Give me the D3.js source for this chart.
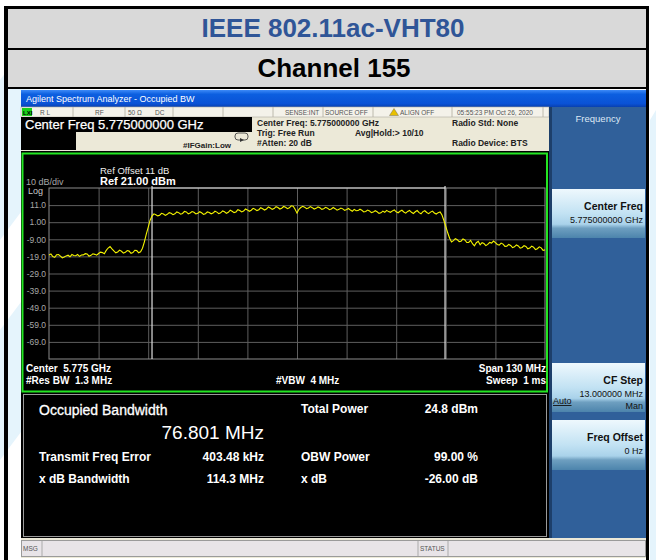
<!DOCTYPE html>
<html>
<head>
<meta charset="utf-8">
<script src="https://cdn.jsdelivr.net/npm/d3@7"></script>
<style>
  body { margin: 0; background: #fff; }
  svg { display: block; font-family: "Liberation Sans", Arial, sans-serif; }
  text { white-space: pre; }
</style>
</head>
<body>
<div id="chart-holder"></div>
<script>
// chart data
var traceStartMHz = -65;   // sweep starts at center - span/2
var traceStepMHz = 0.5;
// measured trace level (dBm), one point per 0.5 MHz from -65 to +65 MHz
var traceLevels = [
  -18.2, -17.6, -19.1, -19.6, -18.0, -17.9, -18.8, -19.9, -19.4, -18.7, -18.3, -19.2, -17.9, -18.5, -18.6, -17.9, -19.0, -18.2, -18.1, -17.4,
  -17.6, -18.9, -18.4, -17.5, -17.8, -18.3, -17.3, -16.5, -16.8, -17.4, -15.5, -14.1, -13.2, -14.6, -15.8, -16.9, -16.4, -15.3, -16.0, -17.1,
  -16.6, -15.6, -15.9, -17.2, -16.8, -15.4, -15.6, -16.9, -16.3, -14.2, -10.5, -6.0, -2.0, 2.2, 4.6, 5.9, 5.4, 4.7, 5.1, 6.2,
  5.8, 5.0, 5.6, 6.6, 6.2, 5.4, 5.9, 7.0, 6.6, 5.7, 6.1, 7.3, 7.0, 5.9, 6.4, 7.2, 6.8, 5.8, 6.2, 7.1,
  6.5, 5.6, 6.0, 7.0, 6.7, 5.9, 6.3, 7.4, 6.9, 6.0, 6.5, 7.6, 7.1, 6.2, 6.8, 8.0, 7.4, 6.6, 7.0, 8.3,
  7.8, 7.0, 7.5, 8.7, 8.2, 7.4, 8.0, 9.1, 8.6, 7.8, 8.3, 9.5, 8.9, 8.1, 8.7, 9.9, 9.3, 8.5, 9.0, 10.1,
  9.6, 8.7, 9.2, 10.2, 9.7, 8.9, 9.4, 10.6, 10.4, 8.6, 6.3, 8.5, 9.6, 10.3, 9.8, 8.9, 9.3, 10.1, 9.5, 8.7,
  9.1, 9.9, 9.4, 8.5, 8.9, 9.7, 9.2, 8.3, 8.7, 9.6, 8.9, 8.0, 8.5, 9.3, 8.8, 7.9, 8.4, 9.0, 8.1, 7.4,
  8.5, 7.7, 7.8, 8.6, 8.0, 7.0, 7.3, 8.1, 7.6, 6.6, 6.9, 7.7, 7.1, 6.2, 6.5, 7.5, 6.8, 7.9, 7.2, 6.8,
  7.6, 8.2, 7.1, 6.5, 7.4, 8.0, 7.0, 6.3, 7.3, 7.9, 6.8, 6.1, 7.1, 7.8, 6.6, 5.9, 7.2, 7.7, 6.7, 6.0,
  6.9, 7.5, 6.4, 5.8, 6.6, 7.0, 5.2, 2.0, -1.5, -5.2, -8.4, -10.6, -9.8, -8.6, -9.2, -10.4, -10.1, -8.8, -9.4, -10.9,
  -10.8, -9.6, -11.6, -12.8, -11.0, -10.2, -12.2, -11.0, -11.5, -12.7, -12.0, -10.8, -11.2, -10.0, -10.9, -12.0, -12.4, -11.2, -11.8, -13.1,
  -13.0, -12.0, -12.6, -13.9, -13.4, -12.3, -12.9, -14.2, -13.8, -12.7, -13.2, -14.6, -14.1, -13.0, -13.6, -15.0, -14.5, -13.4, -14.0, -15.5,
  -15.2
];
// OBW edges (MHz from center)
var obwEdges = [-38.0, 38.8];
// graticule
var yTickValues = [11, 1, -9, -19, -29, -39, -49, -59, -69];
var yTickLabels = ["11.0", "1.00", "-9.00", "-19.0", "-29.0", "-39.0", "-49.0", "-59.0", "-69.0"];
var xGridValues = [-52, -39, -26, -13, 0, 13, 26, 39, 52];
// result table
var resultLeft = [
  ["Transmit Freq Error", "403.48 kHz"],
  ["x dB Bandwidth", "114.3 MHz"]
];
var resultRight = [
  ["Total Power", "24.8 dBm"],
  ["OBW Power", "99.00 %"],
  ["x dB", "-26.00 dB"]
];

var svg = d3.select("#chart-holder")
  .append("svg")
  .attr("width", 656)
  .attr("height", 560);

var defs = svg.append("defs");
function addGradient(id, stops) {
  var g = defs.append("linearGradient").attr("id", id)
    .attr("x1", 0).attr("y1", 0).attr("x2", 0).attr("y2", 1);
  stops.forEach(function(s) {
    g.append("stop").attr("offset", s[0]).attr("stop-color", s[1]);
  });
}
addGradient("titlebar", [[0, "#3d8af7"], [0.25, "#0c5fe0"], [0.8, "#0a52d6"], [1, "#0840b0"]]);
addGradient("softkey", [[0, "#eef8fd"], [0.5, "#c2e2f3"], [0.72, "#a9d2ea"], [0.8, "#6e9fc0"], [1, "#4c84ac"]]);

// faint watermark in the background
svg.append("path")
  .attr("d", "M0,80 L30,40 L30,200 L0,240 Z M0,330 L30,290 L30,420 L0,460 Z M650,120 L656,110 L656,560 L650,560 Z")
  .attr("fill", "#e5f4fc");

// header table
svg.append("rect").attr("x", 8).attr("y", 9).attr("width", 638).attr("height", 39).attr("fill", "#d9d9d9");
svg.append("rect").attr("x", 8).attr("y", 50).attr("width", 638).attr("height", 37).attr("fill", "#d9d9d9");
svg.append("rect").attr("x", 4).attr("y", 6).attr("width", 645).attr("height", 3).attr("fill", "#000");
svg.append("rect").attr("x", 4).attr("y", 48).attr("width", 645).attr("height", 2).attr("fill", "#000");
svg.append("rect").attr("x", 4).attr("y", 87).attr("width", 645).attr("height", 2).attr("fill", "#000");
svg.append("rect").attr("x", 4).attr("y", 6).attr("width", 4).attr("height", 554).attr("fill", "#000");
svg.append("rect").attr("x", 646).attr("y", 6).attr("width", 3).attr("height", 554).attr("fill", "#000");

svg.append("text").attr("x", 333).attr("y", 37)
  .attr("text-anchor", "middle").attr("font-size", 26).attr("font-weight", "bold")
  .attr("fill", "#2f5597").text("IEEE 802.11ac-VHT80");
svg.append("text").attr("x", 334).attr("y", 77)
  .attr("text-anchor", "middle").attr("font-size", 26).attr("font-weight", "bold")
  .attr("fill", "#000").text("Channel 155");

// analyzer screenshot
var scr = svg.append("g");
scr.append("rect").attr("x", 21).attr("y", 90).attr("width", 625).attr("height", 468).attr("fill", "#ece9d8");
scr.append("rect").attr("x", 21).attr("y", 90).attr("width", 625).attr("height", 17).attr("fill", "url(#titlebar)");
scr.append("text").attr("x", 26).attr("y", 102).attr("font-size", 9).attr("fill", "#fff")
  .text("Agilent Spectrum Analyzer - Occupied BW");

// status row
scr.append("rect").attr("x", 21).attr("y", 107).attr("width", 528).attr("height", 10)
  .attr("fill", "#f4f2ea").attr("stroke", "#b0aca0").attr("stroke-width", 0.6);
[73, 125, 173, 223, 273, 323, 373, 452, 543].forEach(function(x) {
  scr.append("line").attr("x1", x).attr("x2", x).attr("y1", 107).attr("y2", 117)
    .attr("stroke", "#b0aca0").attr("stroke-width", 0.8);
});
scr.append("rect").attr("x", 22).attr("y", 108).attr("width", 10).attr("height", 8).attr("fill", "#19d019");
scr.append("text").attr("x", 23).attr("y", 115).attr("font-size", 6).attr("font-weight", "bold").attr("fill", "#000").text("LXI");
var statusTexts = [[40, "R L"], [95, "RF"], [128, "50 \u03a9"], [155, "DC"], [285, "SENSE:INT"], [325, "SOURCE OFF"], [400, "ALIGN OFF"], [457, "05:55:23 PM Oct 26, 2020"]];
statusTexts.forEach(function(t) {
  scr.append("text").attr("x", t[0]).attr("y", 115).attr("font-size", 6.5)
    .attr("fill", "#555").text(t[1]);
});
scr.append("path").attr("d", "M394,108.5 L398.5,115.5 L389.5,115.5 Z").attr("fill", "#e8c000").attr("stroke", "#555").attr("stroke-width", 0.4);

// center freq box
scr.append("rect").attr("x", 21).attr("y", 117).attr("width", 231).attr("height", 15).attr("fill", "#000");
scr.append("rect").attr("x", 21).attr("y", 132).attr("width", 55).attr("height", 18).attr("fill", "#000");
scr.append("text").attr("x", 25).attr("y", 129).attr("font-size", 13).attr("fill", "#fff")
  .attr("stroke", "#fff").attr("stroke-width", 0.25)
  .text("Center Freq 5.775000000 GHz");
scr.append("text").attr("x", 183).attr("y", 148).attr("font-size", 8).attr("font-weight", "bold")
  .attr("fill", "#222").text("#IFGain:Low");
scr.append("rect").attr("x", 235).attr("y", 133).attr("width", 13).attr("height", 7).attr("rx", 3)
  .attr("fill", "none").attr("stroke", "#333").attr("stroke-width", 0.8);
scr.append("path").attr("d", "M240,138 L244,140 L240,142 Z").attr("fill", "#333");

var infoTexts = [[257, 126, "Center Freq: 5.775000000 GHz"], [257, 136, "Trig: Free Run"], [355, 136, "Avg|Hold:> 10/10"],
  [257, 146, "#Atten: 20 dB"], [452, 126, "Radio Std: None"], [452, 146, "Radio Device: BTS"]];
infoTexts.forEach(function(t) {
  scr.append("text").attr("x", t[0]).attr("y", t[1]).attr("font-size", 8.5).attr("font-weight", "bold")
    .attr("fill", "#222").text(t[2]);
});

// softkey panel
scr.append("rect").attr("x", 549).attr("y", 107).attr("width", 97).attr("height", 431).attr("fill", "#30609a");
scr.append("rect").attr("x", 549).attr("y", 107).attr("width", 3).attr("height", 431).attr("fill", "#1d3f6a");
scr.append("text").attr("x", 598).attr("y", 122).attr("text-anchor", "middle").attr("font-size", 9.5)
  .attr("fill", "#dde8f4").text("Frequency");
var softkeys = [
  {y: 189, h: 49, title: "Center Freq", lines: ["5.775000000 GHz"]},
  {y: 363, h: 49, title: "CF Step", lines: ["13.000000 MHz", "Man"]},
  {y: 420, h: 50, title: "Freq Offset", lines: ["0 Hz"]}
];
softkeys.forEach(function(k) {
  scr.append("rect").attr("x", 552).attr("y", k.y).attr("width", 93).attr("height", k.h).attr("fill", "url(#softkey)");
  scr.append("text").attr("x", 643).attr("y", k.y + 21).attr("text-anchor", "end")
    .attr("font-size", 10.5).attr("font-weight", "bold").attr("fill", "#111").text(k.title);
  k.lines.forEach(function(l, i) {
    scr.append("text").attr("x", 643).attr("y", k.y + 34 + i * 12).attr("text-anchor", "end")
      .attr("font-size", 9).attr("fill", "#111").text(l);
  });
});
scr.append("text").attr("x", 553).attr("y", 404).attr("font-size", 9).attr("fill", "#111")
  .attr("text-decoration", "underline").text("Auto");

// display area
scr.append("rect").attr("x", 21).attr("y", 151).attr("width", 528).attr("height", 387).attr("fill", "#000");
scr.append("rect").attr("x", 22.5).attr("y", 153.5).attr("width", 524.5).attr("height", 238)
  .attr("fill", "none").attr("stroke", "#22e622").attr("stroke-width", 2);

var plot = {left: 49, right: 545, top: 188, bottom: 359};
var x = d3.scaleLinear().domain([-65, 65]).range([plot.left, plot.right]);
var y = d3.scaleLinear().domain([-79, 21]).range([plot.bottom, plot.top]);

// horizontal graticule + level labels
var yAxis = d3.axisLeft(y)
  .tickValues(yTickValues)
  .tickSize(-(plot.right - plot.left))
  .tickFormat(function(d, i) { return yTickLabels[i]; });
var gy = scr.append("g").attr("transform", "translate(" + plot.left + ",0)").call(yAxis);
gy.select(".domain").remove();
gy.selectAll("line").attr("stroke", "#5e5e5e").attr("stroke-width", 1);
gy.selectAll("text").attr("x", -3).attr("font-size", 8.5).attr("fill", "#a8a8a8")
  .attr("font-family", "Liberation Sans, Arial, sans-serif");

// vertical graticule
var xAxis = d3.axisBottom(x).tickValues(xGridValues).tickSize(-(plot.bottom - plot.top)).tickFormat("");
var gx = scr.append("g").attr("transform", "translate(0," + plot.bottom + ")").call(xAxis);
gx.select(".domain").remove();
gx.selectAll("line").attr("stroke", "#5e5e5e").attr("stroke-width", 1);

scr.append("rect").attr("x", plot.left).attr("y", plot.top)
  .attr("width", plot.right - plot.left).attr("height", plot.bottom - plot.top)
  .attr("fill", "none").attr("stroke", "#8c8c8c").attr("stroke-width", 1);

// OBW markers
scr.append("line").attr("x1", x(obwEdges[0])).attr("x2", x(obwEdges[1]))
  .attr("y1", plot.top).attr("y2", plot.top).attr("stroke", "#d8d8d8").attr("stroke-width", 1.2);
obwEdges.forEach(function(f) {
  scr.append("line").attr("x1", x(f)).attr("x2", x(f)).attr("y1", plot.top - 2).attr("y2", plot.bottom)
    .attr("stroke", "#e0e0e0").attr("stroke-width", 1.2);
});

// trace
var line = d3.line()
  .x(function(d, i) { return x(traceStartMHz + i * traceStepMHz); })
  .y(function(d) { return y(d); });
scr.append("path").datum(traceLevels).attr("d", line)
  .attr("fill", "none").attr("stroke", "#f4f400").attr("stroke-width", 1.1);

// display annotations
scr.append("text").attr("x", 100).attr("y", 174).attr("font-size", 9.5).attr("fill", "#eee").text("Ref Offset 11 dB");
scr.append("text").attr("x", 100).attr("y", 185).attr("font-size", 11).attr("font-weight", "bold").attr("fill", "#fff").text("Ref 21.00 dBm");
scr.append("text").attr("x", 26).attr("y", 185).attr("font-size", 9).attr("fill", "#a8a8a8").text("10 dB/div");
scr.append("text").attr("x", 28).attr("y", 194).attr("font-size", 9).attr("fill", "#c8c8c8").text("Log");

var footer = [[26, 372, "start", "Center  5.775 GHz"], [546, 372, "end", "Span 130 MHz"],
  [26, 384, "start", "#Res BW  1.3 MHz"], [276, 384, "start", "#VBW  4 MHz"], [546, 384, "end", "Sweep  1 ms"]];
footer.forEach(function(t) {
  scr.append("text").attr("x", t[0]).attr("y", t[1]).attr("text-anchor", t[2])
    .attr("font-size", 10).attr("font-weight", "bold").attr("fill", "#fff").text(t[3]);
});

// results panel
scr.append("rect").attr("x", 23.5).attr("y", 394.5).attr("width", 523).attr("height", 142)
  .attr("fill", "#000").attr("stroke", "#9a9a9a").attr("stroke-width", 1);
scr.append("text").attr("x", 39).attr("y", 415).attr("font-size", 14).attr("fill", "#fff")
  .attr("stroke", "#fff").attr("stroke-width", 0.3).text("Occupied Bandwidth");
scr.append("text").attr("x", 264).attr("y", 439).attr("text-anchor", "end").attr("font-size", 19).attr("fill", "#fff").text("76.801 MHz");
resultLeft.forEach(function(r, i) {
  var yy = 461 + i * 22;
  scr.append("text").attr("x", 39).attr("y", yy).attr("font-size", 12).attr("font-weight", "bold").attr("fill", "#fff").text(r[0]);
  scr.append("text").attr("x", 264).attr("y", yy).attr("text-anchor", "end").attr("font-size", 12).attr("font-weight", "bold").attr("fill", "#fff").text(r[1]);
});
resultRight.forEach(function(r, i) {
  var yy = i === 0 ? 413 : 461 + (i - 1) * 22;
  scr.append("text").attr("x", 301).attr("y", yy).attr("font-size", 12).attr("font-weight", "bold").attr("fill", "#fff").text(r[0]);
  scr.append("text").attr("x", 478).attr("y", yy).attr("text-anchor", "end").attr("font-size", 12).attr("font-weight", "bold").attr("fill", "#fff").text(r[1]);
});

// bottom status bar
scr.append("rect").attr("x", 21.5).attr("y", 540.5).attr("width", 624).attr("height", 16)
  .attr("fill", "#e8e4e8").attr("stroke", "#9a9a9a").attr("stroke-width", 1);
[42, 418, 448].forEach(function(xx) {
  scr.append("line").attr("x1", xx).attr("x2", xx).attr("y1", 541).attr("y2", 556).attr("stroke", "#aaa");
});
scr.append("text").attr("x", 23).attr("y", 551).attr("font-size", 6.5).attr("fill", "#555").text("MSG");
scr.append("text").attr("x", 420).attr("y", 551).attr("font-size", 6.5).attr("fill", "#555").text("STATUS");
</script>
</body>
</html>
